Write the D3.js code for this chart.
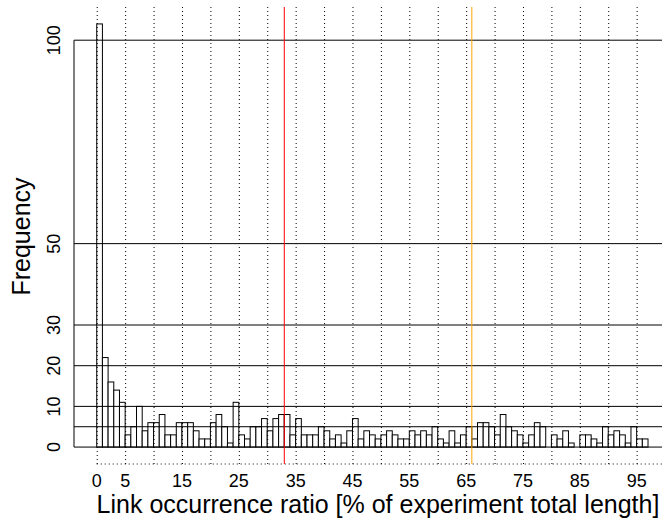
<!DOCTYPE html>
<html>
<head>
<meta charset="utf-8">
<script src="https://cdn.jsdelivr.net/npm/d3@7"></script>
<style>
  html, body { margin: 0; padding: 0; background: #fff; }
  svg { display: block; }
  text { font-family: "Liberation Sans", Arial, sans-serif; fill: #000; }
</style>
</head>
<body>
<svg id="chart" width="662" height="523"></svg>
<script>
// ---- data ----
const binStart = 0;            // first bin left edge (%)
const binWidth = 1;            // bin width (%)
const counts = [104, 22, 16, 14, 11, 3, 5, 10, 4, 6,
                6, 8, 3, 3, 6, 6, 6, 4, 2, 2,
                6, 8, 5, 1, 11, 3, 2, 5, 5, 7,
                4, 7, 8, 8, 3, 7, 3, 3, 3, 5,
                4, 2, 3, 1, 4, 7, 2, 4, 3, 2,
                3, 4, 3, 2, 2, 4, 3, 4, 3, 5,
                2, 1, 4, 1, 3, 5, 2, 6, 6, 5,
                3, 8, 5, 4, 3, 1, 3, 6, 5, 0,
                3, 2, 4, 1, 0, 3, 3, 2, 1, 5,
                3, 4, 3, 1, 5, 2, 2];
const xGridTicks = d3.range(0, 101, 5);
const xTickLabels = [0, 5, 15, 25, 35, 45, 55, 65, 75, 85, 95];
const yTicks = [0, 10, 20, 30, 50, 100];
const hLines = [0, 5, 10, 20, 30, 50, 100];
const redLine = [33];
const orangeLine = [66];
const xTitle = "Link occurrence ratio [% of experiment total length]";
const yTitle = "Frequency";

// ---- layout (R-like plot region, extends beyond the right edge) ----
const plot = { left: 74, right: 687.8, top: 7, bottom: 464 };
const svg = d3.select("#chart");

const bins = counts.map((c, i) => ({ x0: binStart + i * binWidth, x1: binStart + (i + 1) * binWidth, n: c }));
const yMax = d3.max(counts);
const xDom = [0, 100];
const yDom = [0, yMax];
const xPad = (xDom[1] - xDom[0]) * 0.04, yPad = (yDom[1] - yDom[0]) * 0.04;

const x = d3.scaleLinear().domain([xDom[0] - xPad, xDom[1] + xPad]).range([plot.left, plot.right]);
const y = d3.scaleLinear().domain([yDom[0] - yPad, yDom[1] + yPad]).range([plot.bottom, plot.top]);

svg.append("defs").append("clipPath").attr("id", "clip")
  .append("rect").attr("x", plot.left).attr("y", plot.top)
  .attr("width", plot.right - plot.left).attr("height", plot.bottom - plot.top);

// bars
svg.append("g").selectAll("rect").data(bins).join("rect")
  .attr("x", d => x(d.x0))
  .attr("y", d => y(d.n))
  .attr("width", d => x(d.x1) - x(d.x0))
  .attr("height", d => y(0) - y(d.n))
  .attr("fill", "#fff")
  .attr("stroke", "#000")
  .attr("stroke-width", 1);

// x axis: dotted line with full-height dotted ticks
const xAxis = d3.axisBottom(x).tickValues(xGridTicks).tickSize(-(plot.bottom - plot.top)).tickFormat("");
const gx = svg.append("g").attr("transform", `translate(0,${plot.bottom})`).call(xAxis);
gx.select(".domain").remove();
gx.selectAll(".tick line").attr("stroke", "#000").attr("stroke-dasharray", "1,3");
gx.append("line")
  .attr("x1", x(xDom[0])).attr("x2", x(xDom[1]))
  .attr("y1", 0).attr("y2", 0)
  .attr("stroke", "#000").attr("stroke-dasharray", "1,3");

// x tick labels
svg.append("g").selectAll("text").data(xTickLabels).join("text")
  .attr("x", d => x(d))
  .attr("y", 487)
  .attr("text-anchor", "middle")
  .attr("font-size", 18)
  .text(d => d);

// horizontal reference lines
svg.append("g").attr("clip-path", "url(#clip)").selectAll("line").data(hLines).join("line")
  .attr("x1", plot.left).attr("x2", plot.right)
  .attr("y1", d => y(d)).attr("y2", d => y(d))
  .attr("stroke", "#000").attr("stroke-width", 1);

// y axis line (0..100) without ticks
const yAxis = d3.axisLeft(y).tickValues(yTicks).tickSize(0).tickFormat("");
const gy = svg.append("g").attr("transform", `translate(${plot.left},0)`).call(yAxis);
gy.select(".domain").attr("d", `M0,${y(yTicks[0])}V${y(yTicks[yTicks.length - 1])}`).attr("stroke", "#000");

// y tick labels (rotated)
svg.append("g").selectAll("text").data(yTicks).join("text")
  .attr("transform", d => `translate(60,${y(d)}) rotate(-90)`)
  .attr("text-anchor", "middle")
  .attr("font-size", 18)
  .text(d => d);

// vertical markers
svg.append("g").selectAll("line").data(redLine).join("line")
  .attr("x1", d => x(d)).attr("x2", d => x(d))
  .attr("y1", plot.top).attr("y2", plot.bottom)
  .attr("stroke", "#ff0000").attr("stroke-width", 1);
svg.append("g").selectAll("line").data(orangeLine).join("line")
  .attr("x1", d => x(d)).attr("x2", d => x(d))
  .attr("y1", plot.top).attr("y2", plot.bottom)
  .attr("stroke", "#ffa500").attr("stroke-width", 1);

// axis titles
svg.append("text")
  .attr("x", 378)
  .attr("y", 513)
  .attr("text-anchor", "middle")
  .attr("font-size", 25)
  .text(xTitle);
svg.append("text")
  .attr("transform", `translate(30,${(plot.top + plot.bottom) / 2 + 1}) rotate(-90)`)
  .attr("text-anchor", "middle")
  .attr("font-size", 25)
  .text(yTitle);
</script>
</body>
</html>
